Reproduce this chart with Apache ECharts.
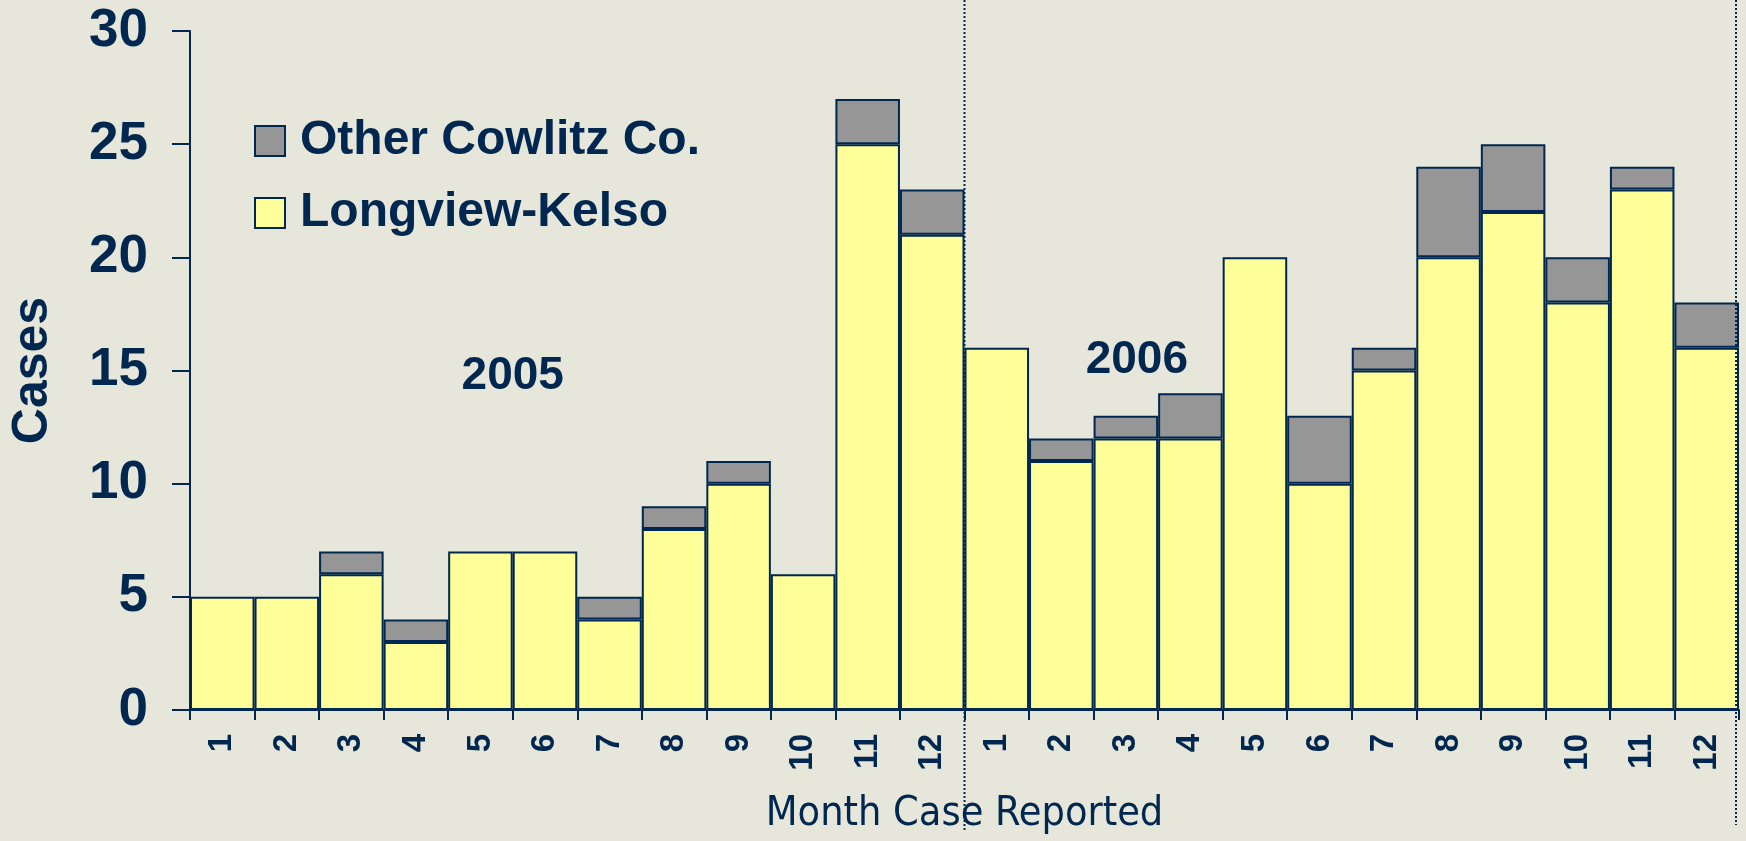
<!DOCTYPE html>
<html>
<head>
<meta charset="utf-8">
<script src="https://cdn.jsdelivr.net/npm/echarts@6/dist/echarts.min.js"></script>
<style>
html,body{margin:0;padding:0;background:#e6e6da;}
#chart{width:1746px;height:841px;}
</style>
</head>
<body>
<div id="chart"></div>
<script>
var years = ['2005', '2006'];
var months = ['1','2','3','4','5','6','7','8','9','10','11','12'];
var longviewKelso = [5,5,6,3,7,7,4,8,10,6,25,21, 16,11,12,12,20,10,15,20,22,18,23,16];
var otherCowlitz  = [0,0,1,1,0,0,1,1,1,0,2,2, 0,1,1,2,0,3,1,4,3,2,1,2];
var yTicks = [0,5,10,15,20,25,30];

var navy = '#00274f';
var categories = [];
years.forEach(function(y){ months.forEach(function(m){ categories.push(y + '-' + m); }); });

var chart = echarts.init(document.getElementById('chart'));
var font = "'Liberation Sans', Arial, sans-serif";

chart.setOption({
  backgroundColor: '#e6e6da',
  animation: false,
  grid: {left: 188, right: 7, top: 31, bottom: 131, containLabel: false},
  legend: {
    orient: 'vertical', left: 249, top: 112,
    data: ['Other Cowlitz Co.', 'Longview-Kelso'],
    itemWidth: 30, itemHeight: 30, itemGap: 24,
    icon: 'rect',
    textStyle: {fontFamily: font, fontWeight: 'bold', fontSize: 48, color: navy, padding: [0,0,0,10]}
  },
  xAxis: {
    type: 'category', data: categories,
    name: 'Month Case Reported', nameLocation: 'middle', nameGap: 84,
    nameTextStyle: {fontFamily: "'Liberation Sans Narrow', 'Arial Narrow', 'DejaVu Sans Condensed', sans-serif", fontSize: 41, color: navy},
    axisLine: {lineStyle: {color: navy, width: 2}},
    axisTick: {show: true, length: 10, lineStyle: {color: navy, width: 2}},
    axisLabel: {
      rotate: 90, margin: 24, fontFamily: font, fontWeight: 'bold', fontSize: 33, color: navy,
      formatter: function(v){ return v.split('-')[1]; }
    }
  },
  yAxis: {
    type: 'value', min: yTicks[0], max: yTicks[yTicks.length-1], interval: 5,
    name: 'Cases', nameLocation: 'middle', nameGap: 132, nameRotate: 90,
    nameTextStyle: {fontFamily: font, fontWeight: 'bold', fontSize: 50, color: navy},
    splitLine: {show: false},
    axisLine: {show: true, lineStyle: {color: navy, width: 2}},
    axisTick: {show: true, length: 18, lineStyle: {color: navy, width: 2}},
    axisLabel: {margin: 42, fontFamily: font, fontWeight: 'bold', fontSize: 53, color: navy}
  },
  series: [
    {
      name: 'Longview-Kelso', type: 'bar', stack: 'cases', data: longviewKelso,
      barCategoryGap: '0%',
      itemStyle: {color: '#ffff99', borderColor: navy, borderWidth: 2}
    },
    {
      name: 'Other Cowlitz Co.', type: 'bar', stack: 'cases',
      data: otherCowlitz.map(function(v){ return v === 0 ? '-' : v; }),
      barCategoryGap: '0%',
      itemStyle: {color: '#969696', borderColor: navy, borderWidth: 2}
    }
  ]
});

function px(idx, val){ return chart.convertToPixel({gridIndex: 0}, [idx, val]); }
var c11 = px(11, 0), c12 = px(12, 0), c23 = px(23, 0);
var band = c12[0] - c11[0];
var divX = (c11[0] + c12[0]) / 2;
var rightX = c23[0] + band / 2 - 3;
var p2005 = px(4, 14.75), p2005b = px(5, 14.75);
var p2006 = px(14, 15.45);

chart.setOption({
  graphic: [
    {type: 'line', shape: {x1: divX, y1: 0, x2: divX, y2: 830}, style: {stroke: navy, lineWidth: 2, lineDash: [2, 2]}, z: 100},
    {type: 'line', shape: {x1: rightX, y1: 0, x2: rightX, y2: 825}, style: {stroke: navy, lineWidth: 2, lineDash: [2, 2]}, z: 100},
    {type: 'text', x: (p2005[0] + p2005b[0]) / 2, y: p2005[1], style: {text: years[0], fontFamily: font, fontWeight: 'bold', fontSize: 46, fill: navy, align: 'center', verticalAlign: 'middle'}, z: 100},
    {type: 'text', x: p2006[0] + band * 0.17, y: p2006[1], style: {text: years[1], fontFamily: font, fontWeight: 'bold', fontSize: 46, fill: navy, align: 'center', verticalAlign: 'middle'}, z: 100}
  ]
});
</script>
</body>
</html>
